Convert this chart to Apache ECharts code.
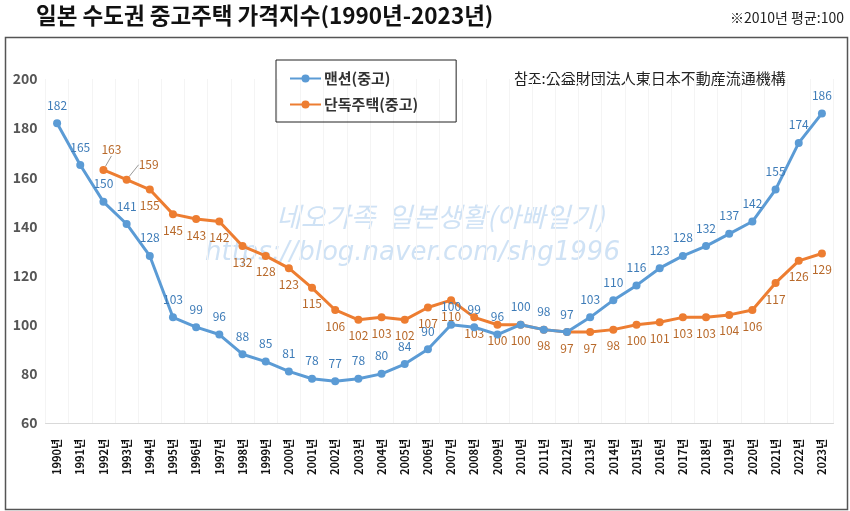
<!DOCTYPE html>
<html>
<head>
<meta charset="utf-8">
<script src="https://cdn.jsdelivr.net/npm/echarts@6/dist/echarts.min.js"></script>
<style>
html,body{margin:0;padding:0;background:#fff;}
#chart{width:850px;height:511px;}
</style>
</head>
<body>
<div id="chart"></div>
<script>
const years = ['1990','1991','1992','1993','1994','1995','1996','1997','1998','1999','2000','2001','2002','2003','2004','2005','2006','2007','2008','2009','2010','2011','2012','2013','2014','2015','2016','2017','2018','2019','2020','2021','2022','2023'];
const mansion = [182,165,150,141,128,103,99,96,88,85,81,78,77,78,80,84,90,100,99,96,100,98,97,103,110,116,123,128,132,137,142,155,174,186];
const detached = [null,null,163,159,155,145,143,142,132,128,123,115,106,102,103,102,107,110,103,100,100,98,97,97,98,100,101,103,103,104,106,117,126,129];
const yTicks = [60,80,100,120,140,160,180,200];
const titleText = '일본 수도권 중고주택 가격지수(1990년-2023년)';
const noteText = '※2010년 평균:100';
const sourceText = '참조:公益財団法人東日本不動産流通機構';
const seriesNames = ['맨션(중고)','단독주택(중고)'];

const FONT = '"Noto Sans CJK KR", "Noto Sans", sans-serif';
const BLUE = '#5B9BD5';
const ORANGE = '#ED7D31';

const detachedData = detached.map((v, i) => {
  if (v === null) return null;
  if (i === 2 || i === 3) {
    return {value: v, label: {position: 'top'}, labelLine: {show: true}};
  }
  return v;
});

const chart = echarts.init(document.getElementById('chart'), null, {renderer: 'canvas'});
chart.setOption({
  backgroundColor: '#fff',
  animation: false,
  textStyle: {fontFamily: FONT},
  title: [
    {text: titleText, left: 31, top: -1, textStyle: {fontFamily: FONT, fontSize: 22.5, fontWeight: 'bold', color: '#111'}},
    {text: noteText, right: 1, top: 6, textStyle: {fontFamily: FONT, fontSize: 14, fontWeight: 'normal', color: '#222'}}
  ],
  graphic: [
    {type: 'rect', left: 3, top: 35, shape: {width: 842, height: 472}, style: {fill: 'none', stroke: '#555', lineWidth: 1.5}, z: -1},
    {type: 'text', left: 514, top: 71, style: {text: sourceText, font: '15px "Noto Sans CJK KR"', fill: '#222'}},
    {type: 'text', left: 276, top: 203, style: {text: '네오가족  일본생활(아빠일기)', font: 'italic 27px "Noto Sans CJK KR"', fill: 'rgba(160,198,236,0.5)'}, z: 0},
    {type: 'text', left: 205, top: 240, style: {text: 'https://blog.naver.com/shg1996', font: 'italic 26px "DejaVu Sans"', fill: 'rgba(160,198,236,0.5)'}, z: 0}
  ],
  legend: {
    orient: 'vertical',
    left: 276,
    top: 60,
    width: 179,
    padding: [11, 38, 10, 13],
    itemGap: 11,
    itemWidth: 31,
    itemHeight: 10,
    borderColor: '#222',
    borderWidth: 1,
    textStyle: {fontFamily: FONT, fontSize: 15, fontWeight: 'bold', color: '#333', padding: [0, 0, 0, -2]},
    data: seriesNames
  },
  grid: {left: 45.5, right: 16.5, top: 79, bottom: 88, containLabel: false},
  xAxis: {
    type: 'category',
    data: years,
    boundaryGap: true,
    axisLine: {show: true, lineStyle: {color: '#d9d9d9', width: 1}},
    axisTick: {show: false},
    splitLine: {show: true, lineStyle: {color: '#f4f4f4', width: 1}},
    axisLabel: {
      rotate: 90, margin: 16, interval: 0,
      fontFamily: FONT, fontSize: 11, fontWeight: 'bold', color: '#111',
      formatter: v => v + '년'
    }
  },
  yAxis: {
    type: 'value',
    min: 60, max: 200, interval: 20,
    axisLine: {show: false},
    axisTick: {show: false},
    splitLine: {show: false},
    axisLabel: {margin: 8, fontFamily: FONT, fontSize: 14, fontWeight: 'bold', color: '#555',
      formatter: v => yTicks.includes(v) ? String(v) : ''}
  },
  series: [
    {
      name: seriesNames[0], type: 'line', data: mansion,
      symbol: 'circle', symbolSize: 8,
      lineStyle: {color: BLUE, width: 3},
      itemStyle: {color: BLUE},
      label: {show: true, position: 'top', distance: 8, fontFamily: FONT, fontSize: 12, color: '#3e7cb8'},
      z: 3
    },
    {
      name: seriesNames[1], type: 'line', data: detachedData,
      symbol: 'circle', symbolSize: 8,
      connectNulls: false,
      lineStyle: {color: ORANGE, width: 3},
      itemStyle: {color: ORANGE},
      label: {show: true, position: 'bottom', distance: 6, fontFamily: FONT, fontSize: 12, color: '#b8692a'},
      labelLine: {show: false, lineStyle: {color: '#999', width: 1}},
      labelLayout: function (p) {
        if (p.dataIndex === 2) return {dx: 8, dy: -4};
        if (p.dataIndex === 3) return {dx: 22, dy: 1};
        return {};
      },
      z: 2
    }
  ]
});
</script>
</body>
</html>
